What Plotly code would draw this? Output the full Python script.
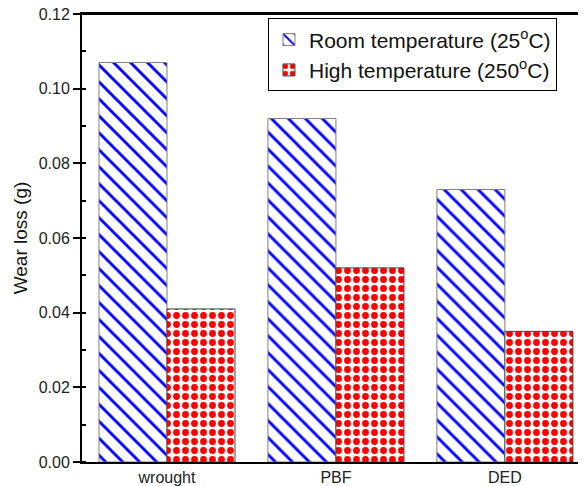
import plotly.graph_objects as go

categories = ["wrought", "PBF", "DED"]
room_temp = [0.107, 0.092, 0.073]
high_temp = [0.041, 0.052, 0.035]
y_ticks = [0.00, 0.02, 0.04, 0.06, 0.08, 0.10, 0.12]
y_tick_labels = ["0.00", "0.02", "0.04", "0.06", "0.08", "0.10", "0.12"]

fig = go.Figure()
fig.add_trace(go.Bar(
    x=categories, y=room_temp,
    name="Room temperature (25<sup>o</sup>C)",
    marker=dict(
        color="white",
        line=dict(color="#7f7f7f", width=1),
        pattern=dict(shape="\\", fgcolor="#0000ff", bgcolor="white", size=12,
                     solidity=0.24, fgopacity=1, fillmode="replace"),
    ),
))
fig.add_trace(go.Bar(
    x=categories, y=high_temp,
    name="High temperature (250<sup>o</sup>C)",
    marker=dict(
        color="white",
        line=dict(color="#444444", width=1),
        pattern=dict(shape=".", fgcolor="#ff0000", bgcolor="white", size=9,
                     solidity=0.45, fgopacity=1, fillmode="replace"),
    ),
))

# page body has an 8px margin, so the figure is sized/offset to fill the 586x486 view
fig.update_layout(
    width=578, height=478,
    margin=dict(l=74, r=0, t=6, b=24),
    paper_bgcolor="white", plot_bgcolor="white",
    barmode="group", bargap=0.195, bargroupgap=0,
    font=dict(family="Arial, Liberation Sans, sans-serif", color="#222222"),
    showlegend=True,
    legend=dict(
        x=0.369, y=0.99, xanchor="left", yanchor="top",
        bgcolor="white", bordercolor="black", borderwidth=1,
        font=dict(size=21, color="#111111"),
        tracegroupgap=0,
    ),
    shapes=[dict(type="line", xref="paper", yref="paper", x0=0, x1=1, y0=1, y1=1,
                 line=dict(color="black", width=2), layer="above")],
)
fig.update_xaxes(
    range=[-0.503, 2.48], automargin=False,
    showline=True, linecolor="black", linewidth=2, mirror=True,
    ticks="", tickfont=dict(size=16),
    showgrid=False, zeroline=False,
)
fig.update_yaxes(
    range=[0, 0.12], automargin=False, ticklabeloverflow="allow",
    tickvals=y_ticks, ticktext=y_tick_labels,
    showline=True, linecolor="black", linewidth=2,
    ticks="outside", ticklen=7, tickwidth=1.5, tickcolor="black",
    minor=dict(dtick=0.01, ticks="inside", ticklen=4, tickwidth=1.5, tickcolor="black", showgrid=False),
    tickfont=dict(size=16),
    title=dict(text="Wear loss (g)", font=dict(size=19, color="#111111"), standoff=6),
    showgrid=False, zeroline=False,
)

fig.write_html("out.html")
